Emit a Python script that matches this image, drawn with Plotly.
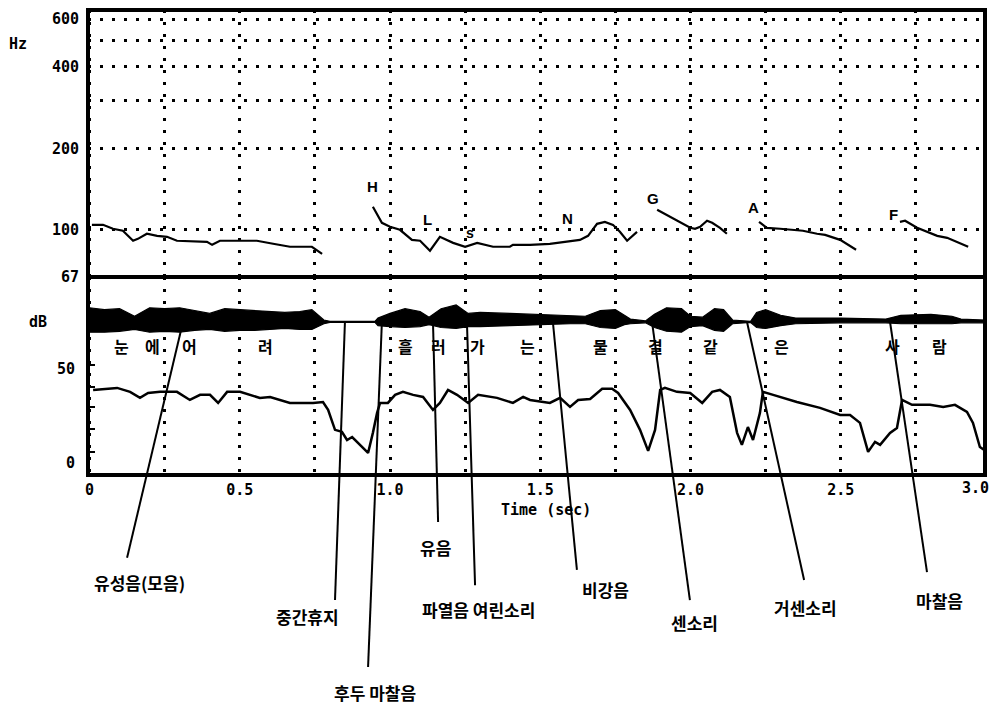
import math
import plotly.graph_objects as go

# ---------------- data ----------------
# Pitch (F0) contour segments: time (s) / frequency (Hz)
f0_seg1_t = [0.008, 0.045, 0.078, 0.111, 0.145, 0.161, 0.191, 0.225, 0.258, 0.291, 0.391, 0.408, 0.434, 0.557, 0.611, 0.667, 0.740, 0.774]
f0_seg1_hz = [104.3, 104.3, 100.9, 99.2, 91.1, 92.6, 96.7, 95.0, 94.2, 91.1, 90.3, 88.0, 91.1, 91.1, 88.8, 86.6, 86.6, 81.5]
f0_seg2_t = [0.943, 0.973, 1.000, 1.033, 1.073, 1.100, 1.133, 1.166, 1.210, 1.250, 1.290, 1.343, 1.399, 1.409, 1.466, 1.532, 1.632, 1.659, 1.689, 1.715, 1.742, 1.765, 1.789, 1.822]
f0_seg2_hz = [121.6, 106.1, 102.6, 100.0, 91.8, 91.1, 83.7, 94.2, 89.5, 86.6, 89.5, 86.6, 86.6, 88.0, 88.0, 88.8, 91.8, 95.0, 105.2, 107.0, 104.3, 98.3, 91.1, 98.3]
f0_seg3_t = [1.889, 1.933, 1.999, 2.015, 2.032, 2.055, 2.072, 2.098, 2.121]
f0_seg3_hz = [118.5, 111.7, 101.7, 100.9, 102.6, 108.0, 106.1, 101.7, 96.7]
f0_seg4_t = [2.228, 2.254, 2.298, 2.374, 2.421, 2.448, 2.498, 2.531, 2.551]
f0_seg4_hz = [107.0, 101.7, 100.9, 99.2, 96.7, 95.8, 91.8, 87.3, 84.4]
f0_seg5_t = [2.697, 2.714, 2.754, 2.821, 2.854, 2.924]
f0_seg5_hz = [107.0, 108.0, 101.7, 95.0, 93.4, 86.6]

# Pitch-accent labels: text, time, Hz
accent_text = ["H", "L", "s", "N", "G", "A", "F"]
accent_t = [0.943, 1.126, 1.266, 1.592, 1.875, 2.211, 2.674]
accent_hz = [144.1, 108.9, 97.5, 109.8, 130.1, 120.6, 113.6]

# Intensity contour (dB scale of lower panel)
int_t = [0.012, 0.092, 0.135, 0.168, 0.195, 0.235, 0.291, 0.334, 0.368, 0.401, 0.428, 0.458, 0.501, 0.567, 0.601, 0.634, 0.667, 0.744, 0.777, 0.794,
         0.817, 0.840, 0.857, 0.874, 0.900, 0.927, 0.943, 0.957, 0.967, 0.993, 1.017, 1.043, 1.077, 1.110, 1.143, 1.166, 1.193, 1.223, 1.260, 1.293,
         1.356, 1.409, 1.443, 1.466, 1.532, 1.566, 1.599, 1.626, 1.666, 1.706, 1.739, 1.759, 1.799, 1.832, 1.859, 1.882, 1.899, 1.915, 1.955, 1.999,
         2.039, 2.072, 2.098, 2.131, 2.155, 2.171, 2.191, 2.208, 2.231, 2.241, 2.275, 2.354, 2.431, 2.498, 2.531, 2.564, 2.591, 2.614, 2.631, 2.664,
         2.687, 2.704, 2.737, 2.797, 2.841, 2.880, 2.920, 2.940, 2.963, 2.986]
int_db = [38.8, 39.9, 37.8, 34.6, 37.2, 37.8, 37.8, 33.5, 36.2, 36.2, 31.9, 37.8, 37.8, 34.6, 35.1, 33.5, 31.9, 31.9, 32.4, 28.2,
          17.6, 16.5, 12.2, 13.8, 9.6, 5.3, 16.0, 26.6, 31.9, 31.9, 36.2, 37.8, 36.2, 35.1, 28.2, 31.9, 38.8, 36.2, 31.9, 36.2,
          34.6, 31.9, 35.1, 33.5, 31.9, 34.6, 29.8, 33.5, 34.0, 39.4, 39.4, 37.2, 28.2, 17.6, 6.4, 17.6, 38.8, 39.9, 37.8, 37.2,
          31.9, 37.8, 38.8, 35.1, 16.0, 9.6, 19.1, 12.2, 26.6, 37.8, 36.2, 32.4, 29.3, 25.5, 25.5, 21.3, 5.9, 11.2, 9.6, 16.0,
          18.6, 33.5, 30.9, 30.9, 29.8, 30.9, 27.1, 21.3, 8.5, 5.9]

# Waveform envelope (upper / lower edge of the oscillogram band)
wave_t = [0.00, 0.05, 0.10, 0.15, 0.20, 0.25, 0.30, 0.35, 0.40, 0.45, 0.50, 0.55, 0.60, 0.65, 0.70, 0.74, 0.78, 0.80, 0.95, 0.96,
          1.00, 1.05, 1.10, 1.13, 1.17, 1.22, 1.26, 1.30, 1.40, 1.50, 1.55, 1.60, 1.65, 1.70, 1.75, 1.78, 1.80, 1.85, 1.88, 1.92,
          1.97, 2.00, 2.04, 2.08, 2.11, 2.14, 2.20, 2.22, 2.25, 2.30, 2.35, 2.50, 2.65, 2.70, 2.80, 2.87, 2.90, 2.98]
wave_top = [82.5, 81.5, 82.0, 78.0, 82.5, 82.0, 82.5, 81.0, 79.5, 82.0, 81.5, 81.0, 80.5, 80.0, 80.5, 81.5, 76.0, 75.3, 75.3, 77.0,
            79.5, 82.0, 80.5, 77.5, 82.0, 84.0, 79.5, 80.0, 79.5, 79.0, 78.5, 78.5, 78.0, 81.0, 81.5, 78.5, 76.5, 75.5, 79.0, 82.5,
            82.0, 78.0, 77.5, 82.0, 81.5, 76.0, 75.3, 80.0, 81.5, 78.5, 77.0, 77.0, 76.5, 78.5, 79.0, 78.0, 76.5, 76.0]
wave_bot = [69.5, 69.5, 70.0, 71.0, 69.5, 70.0, 69.5, 70.5, 71.0, 70.0, 70.5, 70.5, 71.0, 71.5, 71.0, 71.0, 74.0, 74.7, 74.7, 73.0,
            72.5, 72.0, 72.5, 73.5, 72.0, 71.5, 72.5, 72.5, 73.0, 73.5, 74.0, 74.0, 74.0, 72.0, 71.5, 73.5, 74.0, 74.5, 72.0, 70.0,
            69.5, 72.5, 73.0, 70.5, 70.0, 74.0, 74.7, 72.0, 71.5, 73.0, 74.0, 74.5, 74.5, 74.0, 74.0, 74.0, 74.5, 74.5]

# Syllables of the sentence
syl_text = ["눈", "에", "어", "려", "흘", "러", "가", "는", "물", "결", "같", "은", "사", "람"]
syl_t = [0.108, 0.208, 0.334, 0.584, 1.050, 1.160, 1.290, 1.456, 1.699, 1.882, 2.065, 2.304, 2.671, 2.830]
SYL_Y = 62.2

# Phonetic category call-outs: label, line top time, line bottom time, line bottom (paper), label time, label y (paper)
callouts = [
    ("유성음(모음)", 0.311, 0.125, -0.178, 0.165, -0.232),
    ("중간휴지", 0.850, 0.817, -0.269, 0.724, -0.305),
    ("후두 마찰음", 0.973, 0.927, -0.413, 0.950, -0.467),
    ("유음", 1.143, 1.160, -0.101, 1.153, -0.155),
    ("파열음 여린소리", 1.256, 1.283, -0.237, 1.293, -0.290),
    ("비강음", 1.542, 1.622, -0.204, 1.716, -0.247),
    ("센소리", 1.872, 1.998, -0.269, 2.012, -0.318),
    ("거센소리", 2.188, 2.378, -0.226, 2.381, -0.286),
    ("마찰음", 2.664, 2.787, -0.209, 2.830, -0.269),
]
CALLOUT_TOP = 0.329

x_tick_vals = [0, 0.25, 0.5, 0.75, 1.0, 1.25, 1.5, 1.75, 2.0, 2.25, 2.5, 2.75]
x_tick_text = ["0", "", "0.5", "", "1.0", "", "1.5", "", "2.0", "", "2.5", ""]
hz_tick_vals = [67, 100, 200, 300, 400, 500, 600]
hz_tick_text = ["67", "100", "200", "", "400", "", "600"]
db_tick_vals = [0, 50]
db_minor_vals = [6, 18, 29.5, 40.5, 52]

# ---------------- figure ----------------
MONO = dict(family="DejaVu Sans Mono", size=15, color="black", weight="bold")
KR_SYL = dict(family="Noto Sans CJK KR", size=16, color="black", weight="bold")
KR_LAB = dict(family="Noto Sans CJK KR", size=17, color="black", weight="bold")
CENTER = dict(xanchor="center", yanchor="middle", showarrow=False)

fig = go.Figure()

fig.add_trace(go.Scatter(x=wave_t, y=wave_bot, xaxis="x", yaxis="y2", mode="lines",
                         line=dict(color="black", width=1.2), hoverinfo="skip"))
fig.add_trace(go.Scatter(x=wave_t, y=wave_top, xaxis="x", yaxis="y2", mode="lines",
                         line=dict(color="black", width=1.2), fill="tonexty", fillcolor="black", hoverinfo="skip"))
fig.add_trace(go.Scatter(x=int_t, y=int_db, xaxis="x", yaxis="y2", mode="lines",
                         line=dict(color="black", width=2.5)))

for t, hz in [(f0_seg1_t, f0_seg1_hz), (f0_seg2_t, f0_seg2_hz), (f0_seg3_t, f0_seg3_hz),
              (f0_seg4_t, f0_seg4_hz), (f0_seg5_t, f0_seg5_hz)]:
    fig.add_trace(go.Scatter(x=t, y=hz, xaxis="x", yaxis="y", mode="lines",
                             line=dict(color="black", width=2.2)))

annotations = []
for txt, t, hz in zip(accent_text, accent_t, accent_hz):
    annotations.append(dict(x=t, y=math.log10(hz), xref="x", yref="y", text=txt, **CENTER,
                            font=dict(family="Liberation Sans", size=15 if txt != "s" else 14,
                                      color="black", weight="bold")))
for txt, t in zip(syl_text, syl_t):
    annotations.append(dict(x=t, y=SYL_Y, xref="x", yref="y2", text=txt, font=KR_SYL, **CENTER))

shapes = []
for name, t_top, t_bot, y_bot, lt, ly in callouts:
    shapes.append(dict(type="line", xref="x", yref="paper", x0=t_top, y0=CALLOUT_TOP, x1=t_bot, y1=y_bot,
                       line=dict(color="black", width=2), layer="above"))
    annotations.append(dict(x=lt, y=ly, xref="x", yref="paper", text=name, font=KR_LAB, **CENTER))

annotations += [
    dict(x=-0.078, y=0.927, xref="paper", yref="paper", text="Hz", font=MONO, **CENTER),
    dict(x=-0.056, y=0.329, xref="paper", yref="paper", text="dB", font=MONO, **CENTER),
    dict(x=2.947, y=-0.028, xref="x", yref="paper", text="3.0", font=MONO, **CENTER),
    dict(x=1.52, y=-0.075, xref="x", yref="paper", text="Time (sec)", font=MONO, **CENTER),
]

shapes += [
    dict(type="rect", xref="paper", yref="paper", x0=0, y0=0, x1=1, y1=1,
         line=dict(color="black", width=4)),
    dict(type="line", xref="paper", yref="paper", x0=0, y0=0.426, x1=1, y1=0.426,
         line=dict(color="black", width=4)),
]

GRID = dict(showgrid=True, gridcolor="black", gridwidth=2.5, griddash="3px,9px", zeroline=False, showline=False)

fig.update_layout(
    width=989, height=704,
    margin=dict(l=88, r=4, t=10, b=229, autoexpand=False),
    paper_bgcolor="white", plot_bgcolor="white",
    showlegend=False,
    xaxis=dict(domain=[0, 1], anchor="y2", range=[-0.005, 2.98], tickmode="array", automargin=False,
               tickvals=x_tick_vals, ticktext=x_tick_text, ticks="", tickfont=MONO,
               ticklabelstandoff=4, **GRID),
    yaxis=dict(domain=[0.426, 1], anchor="x", type="log", range=[math.log10(67), math.log10(648)],
               tickmode="array", tickvals=hz_tick_vals, ticktext=hz_tick_text, ticks="", automargin=False,
               tickfont=MONO, ticklabelstandoff=8, **GRID),
    yaxis2=dict(domain=[0, 0.426], anchor="x", range=[-6.4, 98.9], tickmode="array", automargin=False,
                tickvals=db_tick_vals, ticks="", tickfont=MONO, ticklabelstandoff=12,
                showgrid=False, zeroline=False, showline=False,
                minor=dict(tickmode="array", tickvals=db_minor_vals, ticks="inside", ticklen=7,
                           tickwidth=2, tickcolor="black", showgrid=False)),
    annotations=annotations,
    shapes=shapes,
)

fig.write_html("out.html", config={"displayModeBar": False},
               post_script="document.body.style.margin='0px';document.body.style.overflow='hidden';")
